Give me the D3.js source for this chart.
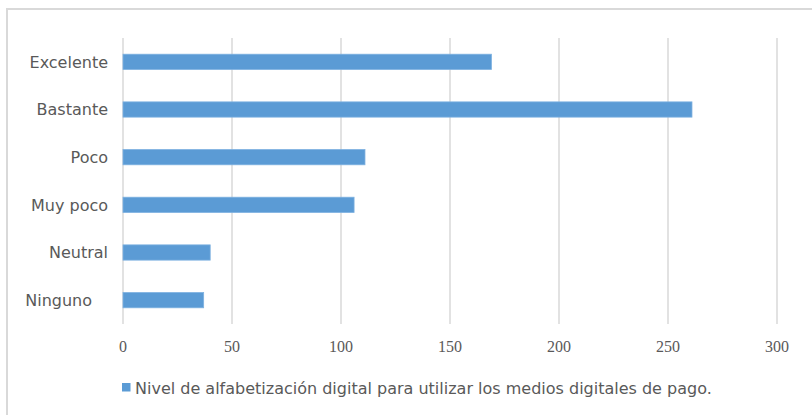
<!DOCTYPE html>
<meta charset="utf-8">
<style>
  body { margin: 0; background: #fff; }
  svg { display: block; }
</style>
<svg width="812" height="415"></svg>

<script src="https://d3js.org/d3.v7.min.js"></script>

<script>
const categories = ["Excelente", "Bastante", "Poco", "Muy poco", "Neutral", "Ninguno"]
const values = [169, 261, 111, 106, 40, 37]
const ticks = [0, 50, 100, 150, 200, 250, 300]
const seriesName = "Nivel de alfabetización digital para utilizar los medios digitales de pago."

const svg = d3.select('svg')
const grey = '#595959'
const barColour = '#5b9bd5'
const sans = '"DejaVu Sans", Verdana, sans-serif'

// outer frame of the chart
svg.append('rect')
  .attr('x', 7).attr('y', 9)
  .attr('width', 820).attr('height', 420)
  .attr('fill', 'none')
  .attr('stroke', '#d9d9d9')
  .attr('stroke-width', 2)

const x = d3.scaleLinear().domain([0, 300]).range([123, 777])
const y = d3.scaleBand().domain(categories).range([38, 324])
  .paddingInner(0.68).paddingOuter(0.34)

// vertical gridlines
svg.append('g')
  .selectAll('line')
  .data(ticks)
  .enter().append('line')
  .attr('x1', d => x(d)).attr('x2', d => x(d))
  .attr('y1', 38).attr('y2', 324)
  .attr('stroke', '#d9d9d9')
  .attr('stroke-width', 1.5)

// tick labels (serif, like the original)
svg.append('g')
  .selectAll('text')
  .data(ticks)
  .enter().append('text')
  .attr('x', d => x(d))
  .attr('y', 352)
  .attr('text-anchor', 'middle')
  .attr('font-family', '"Liberation Serif", serif')
  .attr('font-size', 16)
  .attr('fill', grey)
  .text(d => d)

// bars
svg.append('g')
  .selectAll('rect')
  .data(values)
  .enter().append('rect')
  .attr('x', x(0))
  .attr('y', (d, i) => y(categories[i]))
  .attr('width', d => x(d) - x(0))
  .attr('height', y.bandwidth())
  .attr('fill', barColour)
  .attr('stroke', '#7eb1e0')
  .attr('stroke-width', 0.8)

// category labels ("Ninguno" sits a bit further left in the original)
svg.append('g')
  .selectAll('text')
  .data(categories)
  .enter().append('text')
  .attr('x', d => d === 'Ninguno' ? 92 : 108)
  .attr('y', d => y(d) + y.bandwidth() / 2)
  .attr('dy', '0.36em')
  .attr('text-anchor', 'end')
  .attr('font-family', sans)
  .attr('font-size', 16)
  .attr('fill', grey)
  .text(d => d)

// legend
const legend = svg.append('g')
legend.append('rect')
  .attr('x', 122).attr('y', 383)
  .attr('width', 8.5).attr('height', 8.5)
  .attr('fill', barColour)
legend.append('text')
  .attr('x', 135).attr('y', 394)
  .attr('font-family', sans)
  .attr('font-size', 16)
  .attr('fill', grey)
  .text(seriesName)
</script>
